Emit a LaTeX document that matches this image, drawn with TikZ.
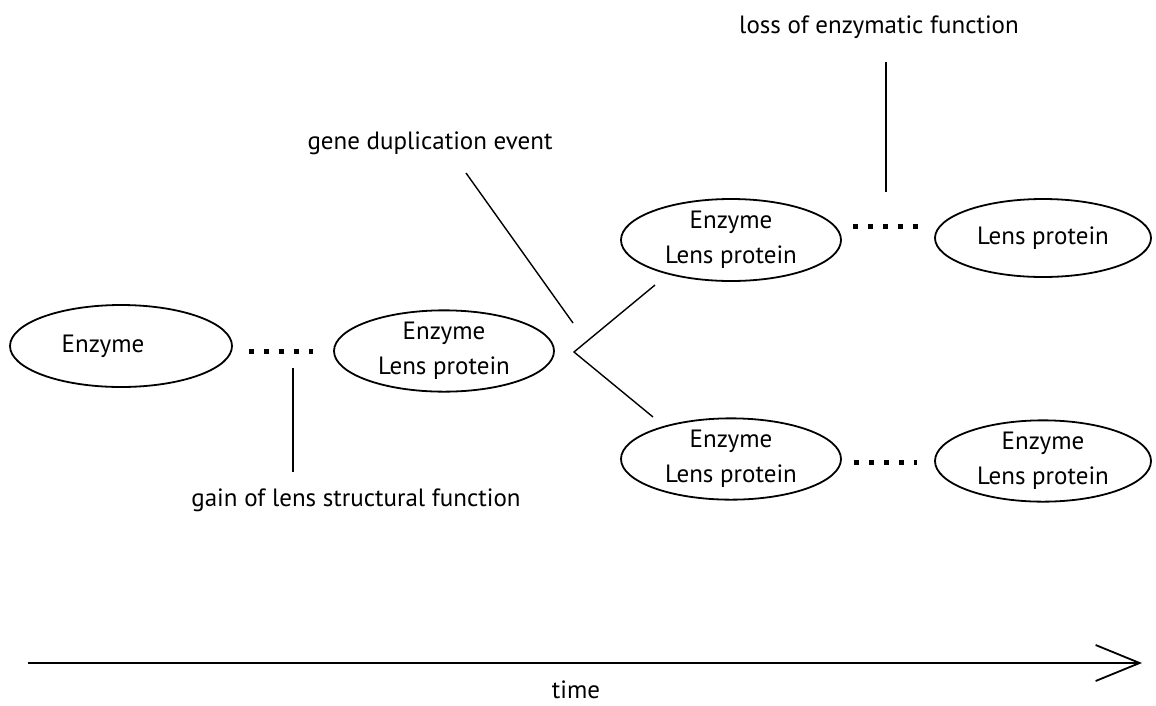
\documentclass[tikz,border=0pt]{standalone}
\usepackage{fontspec}
\setmainfont{PT Sans}
\usetikzlibrary{shapes.geometric,arrows.meta}
\begin{document}
\begin{tikzpicture}[x=1pt,y=-1pt,
  blob/.style={draw,ellipse,line width=1.8pt,inner sep=0pt,align=center,
    minimum width=220pt,minimum height=80pt,
    font=\fontsize{25}{35}\selectfont},
  lbl/.style={font=\fontsize{25}{30}\selectfont,inner sep=0pt},
  dotline/.style={line width=5pt,dash pattern=on 5pt off 10pt},
  thinline/.style={line width=1.4pt}]
\useasboundingbox (0,0) rectangle (1156,705);
% ellipses
\node[blob,minimum width=222pt,minimum height=82pt] (e1) at (121,346) {Enzyme\hspace{36pt}};
\node[blob,minimum height=78pt] (e2) at (444,351) {Enzyme\\Lens protein};
\node[blob,minimum height=82pt] (e3) at (731,240) {Enzyme\\Lens protein};
\node[blob,minimum width=216pt,minimum height=78pt] (e4) at (1043,238) {Lens protein};
\node[blob,minimum height=78pt] (e5) at (731,459) {Enzyme\\Lens protein};
\node[blob,minimum width=216pt,minimum height=77pt] (e6) at (1043,461) {Enzyme\\Lens protein};
% dotted connectors
\draw[dotline] ([xshift=16pt,yshift=-5pt]e1.east) -- ([xshift=-20pt]e2.west);
\draw[dotline] ([xshift=11pt,yshift=14pt]e3.east) -- ([xshift=-15pt,yshift=12pt]e4.west);
\draw[dotline] ([xshift=12pt,yshift=-3pt]e5.east) -- ([xshift=-17pt,yshift=-1pt]e6.west);
% labels
\node[lbl] (loss) at (879,27) {loss of enzymatic function};
\node[lbl] (gene) at (430,143) {gene duplication event};
\node[lbl] (gain) at (356,500) {gain of lens structural function};
\node[lbl] (time) at (576,690) {time};
% label pointers
\coordinate (lossA) at (886,62);
\coordinate (lossB) at (886,192);
\draw[thinline] (lossA) -- (lossB);
\coordinate (geneA) at (466,173);
\coordinate (geneB) at (573,323);
\draw[thinline] (geneA) -- (geneB);
\coordinate (gainA) at (293,368);
\coordinate (gainB) at (293,472);
\draw[thinline] (gainA) -- (gainB);
% duplication branch
\coordinate (br) at (574,352);
\coordinate (brTop) at (655,285);
\coordinate (brBot) at (653,417);
\draw[thinline] (brTop) -- (br) -- (brBot);
% time axis
\coordinate (t0) at (28,663);
\coordinate (t1) at (1142,663);
\draw[thinline,-{Straight Barb[length=44pt,width=36pt,line width=1.8pt]}] (t0) -- (t1);
\end{tikzpicture}
\end{document}
